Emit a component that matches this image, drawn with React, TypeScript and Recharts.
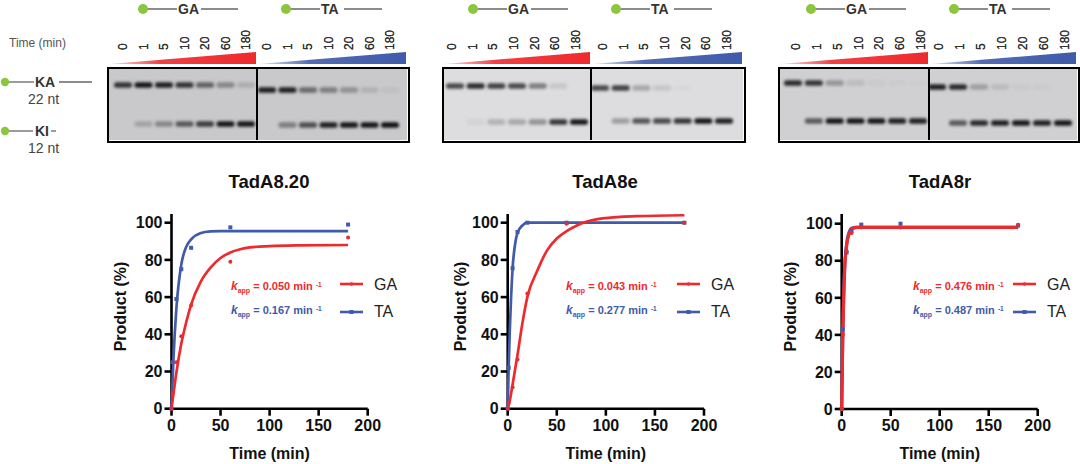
import React from 'react';
import {
  ComposedChart,
  Line,
  Scatter,
  ScatterChart,
  XAxis,
  YAxis,
} from 'recharts';

const FONT = '"Liberation Sans", Arial, sans-serif';
const RED = '#EE2A2E';
const BLUE = '#3F5BA9';
const GREEN = '#8CC63F';

// gel lanes
const laneLabels = ['0', '1', '5', '10', '20', '60', '180'];
const bandRows = ['KA', 'KI'];

const gel820GaKA = [0.8, 0.95, 0.9, 0.8, 0.55, 0.35, 0.15];
const gel820GaKI = [0, 0.2, 0.35, 0.6, 0.75, 0.95, 0.95];
const gel820TaKA = [0.9, 0.9, 0.5, 0.4, 0.3, 0.12, 0.05];
const gel820TaKI = [0, 0.4, 0.65, 0.9, 0.95, 0.95, 0.98];

const gel8eGaKA = [0.7, 0.85, 0.75, 0.7, 0.45, 0.1, 0];
const gel8eGaKI = [0, 0.05, 0.2, 0.25, 0.35, 0.8, 0.95];
const gel8eTaKA = [0.7, 0.75, 0.25, 0.1, 0.02, 0, 0];
const gel8eTaKI = [0, 0.3, 0.65, 0.7, 0.8, 0.95, 0.9];

const gel8rGaKA = [0.85, 0.8, 0.3, 0.1, 0.03, 0.02, 0.01];
const gel8rGaKI = [0, 0.6, 0.95, 0.95, 0.95, 0.9, 0.9];
const gel8rTaKA = [0.9, 0.85, 0.25, 0.1, 0.03, 0.02, 0];
const gel8rTaKI = [0, 0.6, 0.85, 0.9, 0.95, 0.9, 0.95];

// measured points, same time course for every series
const pointTimes = [0, 1, 5, 10, 20, 60, 180];
const ga820Points = [0, 8, 25, 39, 55.5, 79, 92];
const ta820Points = [0, 25, 59, 75, 86.5, 97.5, 99];
const ga8ePoints = [0, 3, 11.5, 26.5, 62, 99.5, 100];
const ta8ePoints = [0, 22, 75.5, 95, 100, 100, 100];
const ga8rPoints = [0, 40, 85, 95, 98, 98, 99.5];
const ta8rPoints = [0, 43, 84.5, 96, 99.5, 100, 99];

// fitted curves
const slowFitTimes = [0, 2, 5, 10, 15, 20, 30, 40, 50, 60, 70, 80, 100, 130, 180];
const ga820Fit = [0, 8, 19.5, 35, 46.5, 56, 68.5, 76, 81, 84, 85.7, 86.7, 87.4, 87.8, 88];
const ta820Fit = [0, 27, 54, 77.5, 87, 91, 94.5, 95.3, 95.5, 95.5, 95.5, 95.5, 95.5, 95.5, 95.5];
const ga8eFit = [0, 4, 13, 29, 46, 60, 74, 85, 91.5, 95.5, 98.4, 100.5, 102.5, 103.5, 104];
const fastFitTimes = [0, 1, 2, 3, 5, 8, 10, 15, 20, 60, 180];
const ta8eFit = [0, 22, 40, 54, 75.5, 90, 94.5, 98.5, 100, 100, 100];
const ga8rFit = [0, 36, 60, 75, 88, 95, 97, 98, 98, 98, 98];
const ta8rFit = [0, 37, 61, 76, 89, 96, 97.5, 98, 98, 98, 98];

const xTicks = [0, 50, 100, 150, 200];
const yTicks = [0, 20, 40, 60, 80, 100];

const zip = (times: number[], values: number[]) => times.map((t, i) => ({ t, v: values[i] }));

const bandData = (ka: number[], ki: number[]) =>
  laneLabels.flatMap((lane, i) => [
    { lane, band: bandRows[0], level: ka[i] },
    { lane, band: bandRows[1], level: ki[i] },
  ]);

function Band(props: any) {
  const { cx, cy, payload } = props;
  return (
    <rect
      x={cx - 9}
      y={cy - 2.8}
      width={18}
      height={5.6}
      rx={2.5}
      fill="#0c0c0e"
      fillOpacity={payload.level}
      style={{ filter: 'blur(1.4px)' }}
    />
  );
}

function GelPanel({ left, width, ka, ki, bandLeft, bandRight, kaY, kiY, shift, bg, color }: any) {
  const top = 20;
  const height = 122;
  const plotTop = 68;
  const axisHeight = 20;
  const wedgeId = 'wedge' + left;
  return (
    <div style={{ position: 'absolute', left, top }}>
      <ScatterChart
        width={width}
        height={height}
        margin={{ top: plotTop - top - axisHeight, right: 0, bottom: top + height - 140, left: 0 }}
      >
        <defs>
          <linearGradient id={wedgeId} x1="0" x2="1" y1="0" y2="0">
            <stop offset="0" stopColor={color} stopOpacity={0.15} />
            <stop offset="0.35" stopColor={color} stopOpacity={0.9} />
            <stop offset="1" stopColor={color} />
          </linearGradient>
        </defs>
        <rect x={0} y={plotTop - top} width={width} height={72} fill={bg} />
        <polygon
          points={`1,${64 - top} ${width - 1},${64 - top} ${width - 1},${52 - top}`}
          fill={`url(#${wedgeId})`}
        />
        <XAxis
          type="category"
          dataKey="lane"
          orientation="top"
          scale="point"
          allowDuplicatedCategory={false}
          padding={{ left: bandLeft, right: bandRight }}
          axisLine={false}
          tickLine={false}
          interval={0}
          height={axisHeight}
          tick={({ x, payload }: any) => (
            <text
              transform={`translate(${x + shift + 4},${50 - top}) rotate(-90)`}
              fontSize={12}
              fill="#333"
              fontFamily={FONT}
            >
              {payload.value}
            </text>
          )}
        />
        <YAxis
          type="category"
          dataKey="band"
          scale="point"
          reversed
          hide
          width={0}
          allowDuplicatedCategory={false}
          padding={{ top: kaY - plotTop, bottom: 140 - kiY }}
        />
        <Scatter data={bandData(ka, ki)} shape={<Band />} isAnimationActive={false} />
      </ScatterChart>
    </div>
  );
}

function Strand({ x, label, gap, end }: any) {
  return (
    <g>
      <line x1={x} x2={x + gap} y1={9} y2={9} stroke="#666" strokeWidth={1.3} />
      <line x1={x + gap + 24} x2={x + end} y1={9} y2={9} stroke="#666" strokeWidth={1.3} />
      <circle cx={x} cy={9} r={5} fill={GREEN} />
      <text x={x + gap + 1} y={14} fontSize={14} fontWeight="bold" fill="#333" fontFamily={FONT}>
        {label}
      </text>
    </g>
  );
}

function Gel({ left, right, mid, labels, panelA, panelB, bg }: any) {
  return (
    <>
      <GelPanel left={left} width={mid - left} {...panelA} bg={bg} color={RED} />
      <GelPanel left={mid} width={right - mid} {...panelB} bg={bg} color={BLUE} />
      <div
        style={{
          position: 'absolute',
          left: left - 1,
          top: 67,
          width: right - left,
          height: 72,
          border: '2px solid #000',
          boxSizing: 'content-box',
        }}
      />
      <div style={{ position: 'absolute', left: mid - 1, top: 68, width: 2, height: 72, background: '#000' }} />
      <svg
        width={400}
        height={20}
        style={{ position: 'absolute', left: labels, top: 0, overflow: 'visible' }}
      >
        <Strand x={0} label="GA" gap={34} end={95} />
        <Strand x={143} label="TA" gap={34} end={96} />
      </svg>
    </>
  );
}

function KappLabel({ x, y, color, value }: any) {
  return (
    <text x={x} y={y} fontSize={11} fontWeight="bold" fill={color} fontFamily={FONT}>
      <tspan fontStyle="italic" fontSize={12}>k</tspan>
      <tspan fontSize={7} dy={2.5}>app</tspan>
      <tspan dy={-2.5}> = {value} min </tspan>
      <tspan fontSize={6.5} dy={-3}>-1</tspan>
    </text>
  );
}

function RateChart({ left, plotLeft, plotRight, plotBottom, top100, gaFit, taFit, fitTimesGa, fitTimesTa, gaPts, taPts, kx, lx, gaK, taK, curveWidth }: any) {
  const chartTop = 200;
  const width = 310;
  const height = 264;
  const axisTop = 214;
  const yMax = ((plotBottom - axisTop) / (plotBottom - top100)) * 100;
  return (
    <div style={{ position: 'absolute', left, top: chartTop }}>
      <ComposedChart
        width={width}
        height={height}
        margin={{ top: axisTop - chartTop, right: width - (plotRight - left), bottom: 0, left: 0 }}
      >
        <XAxis
          dataKey="t"
          type="number"
          domain={[0, 200]}
          ticks={xTicks}
          height={chartTop + height - plotBottom}
          tickSize={7}
          tickMargin={4}
          axisLine={{ stroke: '#000', strokeWidth: 2.6 }}
          tickLine={{ stroke: '#000', strokeWidth: 2.6 }}
          tick={{ fontSize: 16, fontWeight: 'bold', fill: '#111', fontFamily: FONT }}
          label={{ value: 'Time (min)', position: 'insideBottom', offset: 5, fontSize: 16, fontWeight: 'bold', fill: '#111', fontFamily: FONT }}
        />
        <YAxis
          dataKey="v"
          type="number"
          domain={[0, yMax]}
          ticks={yTicks}
          width={plotLeft - left}
          tickSize={7}
          tickMargin={2}
          interval={0}
          axisLine={{ stroke: '#000', strokeWidth: 2.6 }}
          tickLine={{ stroke: '#000', strokeWidth: 2.6 }}
          tick={{ fontSize: 16, fontWeight: 'bold', fill: '#111', fontFamily: FONT }}
          label={{ value: 'Product (%)', angle: -90, position: 'insideLeft', offset: 20, dy: 40, fontSize: 16, fontWeight: 'bold', fill: '#111', fontFamily: FONT }}
        />
        <Line data={zip(fitTimesTa, taFit)} dataKey="v" stroke={BLUE} strokeWidth={curveWidth} dot={false} type="monotone" isAnimationActive={false} zIndex={700} />
        <Line data={zip(fitTimesGa, gaFit)} dataKey="v" stroke={RED} strokeWidth={curveWidth} dot={false} type="monotone" isAnimationActive={false} zIndex={700} />
        <Scatter
          data={zip(pointTimes, taPts)}
          fill={BLUE}
          isAnimationActive={false}
          zIndex={710}
          shape={(p: any) => <rect x={p.cx - 2} y={p.cy - 2} width={4} height={4} fill={BLUE} />}
        />
        <Scatter
          data={zip(pointTimes, gaPts)}
          fill={RED}
          isAnimationActive={false}
          zIndex={710}
          shape={(p: any) => <circle cx={p.cx} cy={p.cy} r={2} fill={RED} />}
        />
        <KappLabel x={kx - left} y={90} color={RED} value={gaK} />
        <KappLabel x={kx - left} y={114} color={BLUE} value={taK} />
        <line x1={lx - left} x2={lx - left + 23} y1={84} y2={84} stroke={RED} strokeWidth={2.6} />
        <circle cx={lx - left + 11.5} cy={84} r={1.8} fill={RED} />
        <line x1={lx - left} x2={lx - left + 23} y1={112} y2={112} stroke={BLUE} strokeWidth={2.6} />
        <rect x={lx - left + 9.5} y={110} width={4} height={4} fill={BLUE} />
        <text x={lx - left + 34} y={90} fontSize={16} fill="#222" fontFamily={FONT}>GA</text>
        <text x={lx - left + 34} y={117} fontSize={16} fill="#222" fontFamily={FONT}>TA</text>
      </ComposedChart>
    </div>
  );
}

function Title({ x, text }: any) {
  return (
    <div
      style={{
        position: 'absolute',
        left: x - 100,
        width: 200,
        top: 171,
        textAlign: 'center',
        fontFamily: FONT,
        fontWeight: 'bold',
        fontSize: 18.5,
        color: '#111',
      }}
    >
      {text}
    </div>
  );
}

export default function App() {
  return (
    <div style={{ position: 'fixed', left: 0, top: 0, width: 1080, height: 464, background: '#fff', overflow: 'hidden' }}>
      <svg width={110} height={164} style={{ position: 'absolute', left: 0, top: 0 }}>
        <text x={9} y={47} fontSize={12} fill="#555" fontFamily={FONT}>Time (min)</text>
        <line x1={5} x2={34} y1={82} y2={82} stroke="#666" strokeWidth={1.3} />
        <line x1={59} x2={92} y1={82} y2={82} stroke="#666" strokeWidth={1.3} />
        <circle cx={5} cy={82} r={4.2} fill={GREEN} />
        <text x={35} y={87} fontSize={14} fontWeight="bold" fill="#333" fontFamily={FONT}>KA</text>
        <text x={28} y={104} fontSize={14} fill="#444" fontFamily={FONT}>22 nt</text>
        <line x1={5} x2={33} y1={131} y2={131} stroke="#666" strokeWidth={1.3} />
        <line x1={51} x2={56} y1={131} y2={131} stroke="#666" strokeWidth={1.3} />
        <circle cx={5} cy={131} r={4.2} fill={GREEN} />
        <text x={35} y={136} fontSize={14} fontWeight="bold" fill="#333" fontFamily={FONT}>KI</text>
        <text x={28} y={153} fontSize={14} fill="#444" fontFamily={FONT}>12 nt</text>
      </svg>

      <Gel
        left={108}
        right={407}
        mid={257}
        labels={143}
        bg="#c9c9cb"
        panelA={{ ka: gel820GaKA, ki: gel820GaKI, bandLeft: 15, bandRight: 11, kaY: 85, kiY: 124, shift: 0 }}
        panelB={{ ka: gel820TaKA, ki: gel820TaKI, bandLeft: 10, bandRight: 17, kaY: 90, kiY: 125, shift: 0 }}
      />
      <Gel
        left={443}
        right={743}
        mid={591}
        labels={473}
        bg="#dddddf"
        panelA={{ ka: gel8eGaKA, ki: gel8eGaKI, bandLeft: 12, bandRight: 12, kaY: 86, kiY: 122, shift: -3 }}
        panelB={{ ka: gel8eTaKA, ki: gel8eTaKI, bandLeft: 9, bandRight: 19, kaY: 88, kiY: 121, shift: 3 }}
      />
      <Gel
        left={779}
        right={1077}
        mid={929}
        labels={811}
        bg="#d0d0d2"
        panelA={{ ka: gel8rGaKA, ki: gel8rGaKI, bandLeft: 14, bandRight: 11, kaY: 83, kiY: 121, shift: 3 }}
        panelB={{ ka: gel8rTaKA, ki: gel8rTaKI, bandLeft: 8, bandRight: 14, kaY: 87, kiY: 123, shift: 2 }}
      />

      <Title x={269} text="TadA8.20" />
      <Title x={605} text="TadA8e" />
      <Title x={940} text="TadA8r" />

      <RateChart
        left={100}
        plotLeft={171.5}
        plotRight={367.7}
        plotBottom={408.7}
        top100={222.7}
        fitTimesGa={slowFitTimes}
        fitTimesTa={slowFitTimes}
        gaFit={ga820Fit}
        taFit={ta820Fit}
        gaPts={ga820Points}
        taPts={ta820Points}
        kx={231}
        lx={340}
        gaK="0.050"
        taK="0.167"
        curveWidth={2.7}
      />
      <RateChart
        left={440}
        plotLeft={507.7}
        plotRight={704}
        plotBottom={408.7}
        top100={222.7}
        fitTimesGa={slowFitTimes}
        fitTimesTa={fastFitTimes}
        gaFit={ga8eFit}
        taFit={ta8eFit}
        gaPts={ga8ePoints}
        taPts={ta8ePoints}
        kx={566}
        lx={677}
        gaK="0.043"
        taK="0.277"
        curveWidth={2.7}
      />
      <RateChart
        left={770}
        plotLeft={841.7}
        plotRight={1037.7}
        plotBottom={409}
        top100={223.7}
        fitTimesGa={fastFitTimes}
        fitTimesTa={fastFitTimes}
        gaFit={ga8rFit}
        taFit={ta8rFit}
        gaPts={ga8rPoints}
        taPts={ta8rPoints}
        kx={913}
        lx={1013}
        gaK="0.476"
        taK="0.487"
        curveWidth={3.2}
      />
    </div>
  );
}
